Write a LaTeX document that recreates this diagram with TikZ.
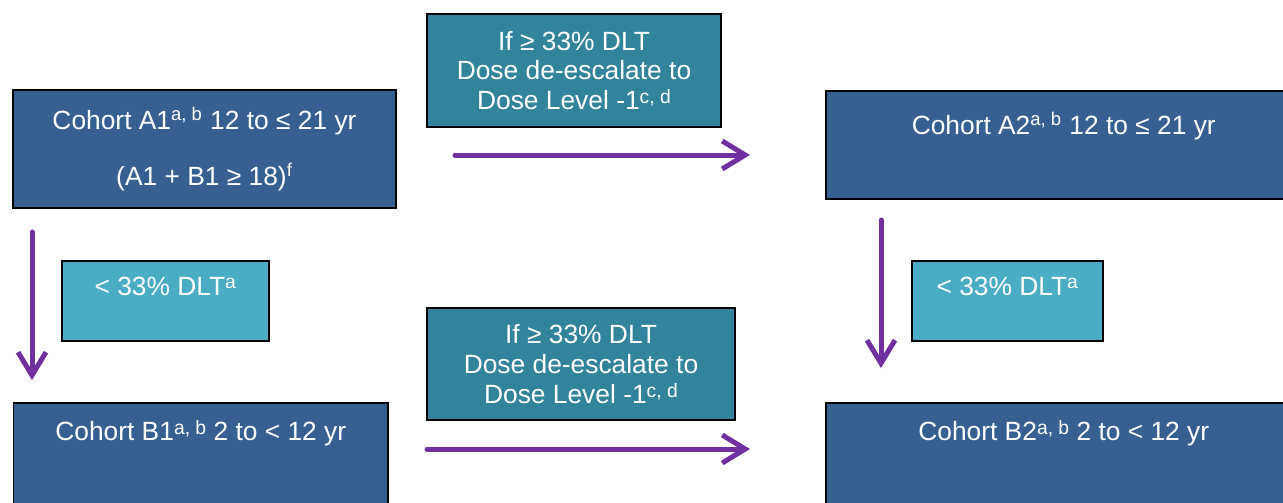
\documentclass[tikz,border=0pt]{standalone}
\usepackage{fontspec}
\setmainfont{Liberation Sans}
\usepackage{tikz}
\usetikzlibrary{arrows.meta}
\definecolor{cohortblue}{HTML}{376092}
\definecolor{deescteal}{HTML}{31849B}
\definecolor{dltcyan}{HTML}{4BACC6}
\definecolor{arrowpurple}{HTML}{7030A0}
\newcommand{\lowsup}[1]{\raisebox{0.45ex}{\fontsize{11}{12}\selectfont #1}}
\tikzset{
    every node/.style={rectangle, draw=black, line width=0.3mm, text=white,
    	inner sep=0pt, align=center, font=\fontsize{15}{17}\selectfont}
}
\tikzset{
    cohort/.style={fill=cohortblue},
    deesc/.style={fill=deescteal},
    dlt/.style={fill=dltcyan}
}
\tikzset{
    every edge/.append style={line width=1mm, arrowpurple, line cap=round,
    	-{Straight Barb[length=4.6mm,width=5.6mm]}}
}

\begin{document}
\begin{tikzpicture}
	\clip (0cm, 0cm) rectangle (25.66cm, -10.04cm);
	\node (a1) [cohort, minimum width=7.66cm, minimum height=2.36cm] at (4.09cm, -2.98cm)
		{Cohort A1\textsuperscript{a, b} 12 to ≤ 21 yr\\[14.5pt](A1 + B1 ≥ 18)\textsuperscript{f}};
	\node (a2) [cohort, anchor=north west, minimum width=9.52cm, text height=0.88cm, text depth=1.28cm] at (16.5cm, -1.8cm)
		{Cohort A2\textsuperscript{a, b} 12 to ≤ 21 yr};
	\node (b1) [cohort, anchor=north west, minimum width=7.48cm, text height=0.76cm, text depth=1.6cm] at (0.26cm, -8.04cm)
		{Cohort B1\lowsup{a, b} 2 to < 12 yr};
	\node (b2) [cohort, anchor=north west, minimum width=9.52cm, text height=0.76cm, text depth=1.6cm] at (16.5cm, -8.04cm)
		{Cohort B2\lowsup{a, b} 2 to < 12 yr};
	\node (topdesc) [deesc, minimum width=5.88cm, minimum height=2.26cm] at (11.48cm, -1.41cm)
		{If ≥ 33\% DLT\\Dose de-escalate to\\Dose Level -1\lowsup{c, d}};
	\node (botdesc) [deesc, minimum width=6.16cm, minimum height=2.24cm] at (11.62cm, -7.28cm)
		{If ≥ 33\% DLT\\Dose de-escalate to\\Dose Level -1\lowsup{c, d}};
	\node (leftdlt) [dlt, anchor=north west, minimum width=4.14cm, text height=0.69cm, text depth=0.91cm] at (1.22cm, -5.2cm)
		{< 33\% DLT\lowsup{a}};
	\node (rightdlt) [dlt, anchor=north west, minimum width=3.82cm, text height=0.69cm, text depth=0.91cm] at (18.22cm, -5.2cm)
		{< 33\% DLT\lowsup{a}};
	
	\coordinate (topfrom) at (9.1cm, -3.1cm);
	\coordinate (topto) at (15.0cm, -3.1cm);
	\coordinate (botfrom) at (8.54cm, -8.98cm);
	\coordinate (botto) at (15.0cm, -8.98cm);
	\coordinate (leftfrom) at (0.64cm, -4.64cm);
	\coordinate (leftto) at (0.64cm, -7.6cm);
	\coordinate (rightfrom) at (17.62cm, -4.4cm);
	\coordinate (rightto) at (17.62cm, -7.36cm);
	
	\draw (topfrom) edge (topto); \draw (botfrom) edge (botto);
	
	\draw (leftfrom) edge (leftto); \draw (rightfrom) edge (rightto);
\end{tikzpicture}
\end{document}
